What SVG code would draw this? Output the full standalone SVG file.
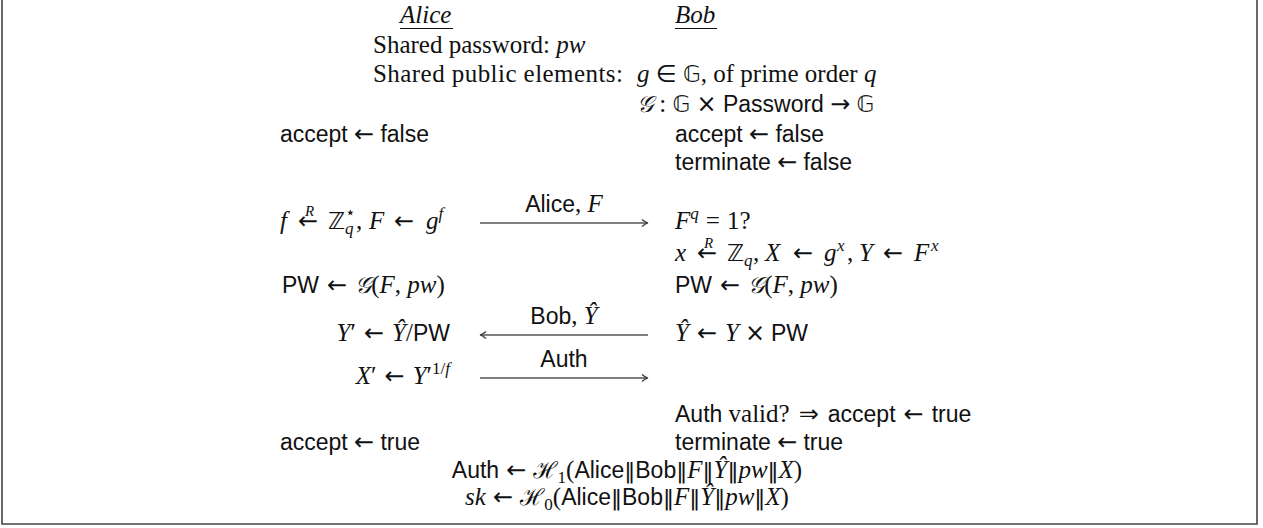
<svg xmlns="http://www.w3.org/2000/svg" width="1263" height="528" viewBox="0 0 1263 528">
<style>
text{font-family:"Liberation Serif",serif;font-size:25px;fill:#111}
.it{font-style:italic}
.sf{font-family:"Liberation Sans",sans-serif;font-size:23px;font-style:normal}
.sy{font-family:"DejaVu Sans",sans-serif;font-size:24px;font-style:normal}
.bb{font-family:"DejaVu Sans",sans-serif;font-size:23px;font-style:normal}
.sc{font-family:"DejaVu Serif","Noto Sans",serif;font-size:23px;font-style:italic}
.pp{font-family:"DejaVu Sans",sans-serif;font-size:22px;font-style:normal}
.s{font-size:17px}
.r{font-size:15px;font-style:italic}
.ul{stroke:#111;stroke-width:1}
.conn line{stroke:#555;stroke-width:1.3}
.conn path{fill:none;stroke:#333;stroke-width:1.2}
.lab{text-anchor:middle}
</style>
<path d="M2,-3 V524 H1257 V-3" fill="none" stroke="#444" stroke-width="1.6"/>

<g id="alice-header">
<text x="400" y="23" class="it">Alice</text>
<line class="ul" x1="400" y1="28.5" x2="453" y2="28.5"/>
</g>
<g id="bob-header">
<text x="675" y="23" class="it">Bob</text>
<line class="ul" x1="675" y1="28.5" x2="717" y2="28.5"/>
</g>

<g id="shared">
<text x="373" y="53">Shared password: <tspan class="it">pw</tspan></text>
<text x="373" y="82" textLength="250" lengthAdjust="spacing">Shared public elements:</text>
<text x="637" y="82"><tspan class="it">g</tspan> <tspan class="sy">∈</tspan> <tspan class="bb">𝔾</tspan>, of prime order <tspan class="it">q</tspan></text>
<text x="637" y="112"><tspan class="sc">𝒢</tspan> : <tspan class="bb">𝔾</tspan> <tspan class="sy">×</tspan> <tspan class="sf">Password</tspan> <tspan class="sy">→</tspan> <tspan class="bb">𝔾</tspan></text>
</g>

<g id="alice-ops">
<text x="280" y="142"><tspan class="sf">accept</tspan> <tspan class="sy">←</tspan> <tspan class="sf">false</tspan></text>
<text x="280" y="229"><tspan class="it">f</tspan><tspan x="298" class="sy">←</tspan><tspan x="305" dy="-13" class="r">R</tspan><tspan x="328" dy="13" class="bb">ℤ</tspan><tspan x="345" class="s it" dy="5">q</tspan><tspan x="345" class="s" dy="-16">⋆</tspan><tspan x="356" dy="11">,</tspan><tspan x="369" class="it">F</tspan><tspan x="394" class="sy">←</tspan><tspan x="426" class="it">g</tspan><tspan class="s it" dy="-10">f</tspan></text>
<text x="282" y="293"><tspan class="sf">PW</tspan><tspan dx="8" class="sy">←</tspan><tspan dx="8" class="sc">𝒢</tspan>(<tspan class="it">F</tspan>, <tspan class="it">pw</tspan>)</text>
<text x="450" y="341" text-anchor="end"><tspan class="it">Y</tspan>′<tspan dx="8" class="sy">←</tspan><tspan dx="8" class="it">Ŷ</tspan>/<tspan class="sf">PW</tspan></text>
<text x="450" y="384" text-anchor="end"><tspan class="it">X</tspan>′<tspan dx="8" class="sy">←</tspan><tspan dx="8" class="it">Y</tspan>′<tspan class="s" dy="-10">1/<tspan class="it">f</tspan></tspan></text>
<text x="280" y="450"><tspan class="sf">accept</tspan> <tspan class="sy">←</tspan> <tspan class="sf">true</tspan></text>
</g>

<g id="bob-ops">
<text x="675" y="142"><tspan class="sf">accept</tspan> <tspan class="sy">←</tspan> <tspan class="sf">false</tspan></text>
<text x="675" y="170"><tspan class="sf">terminate</tspan> <tspan class="sy">←</tspan> <tspan class="sf">false</tspan></text>
<text x="675" y="229"><tspan class="it">F</tspan><tspan class="s it" dy="-10">q</tspan><tspan dx="7" dy="10">=</tspan><tspan dx="7">1?</tspan></text>
<text x="675" y="261"><tspan class="it">x</tspan><tspan x="697" class="sy">←</tspan><tspan x="704" dy="-13" class="r">R</tspan><tspan x="727" dy="13" class="bb">ℤ</tspan><tspan x="744" class="s it" dy="5">q</tspan><tspan x="753" dy="-5">,</tspan><tspan x="765" class="it">X</tspan><tspan x="793" class="sy">←</tspan><tspan x="824" class="it">g</tspan><tspan x="837" class="s it" dy="-10">x</tspan><tspan x="847" dy="10">,</tspan><tspan x="859" class="it">Y</tspan><tspan x="883" class="sy">←</tspan><tspan x="914" class="it">F</tspan><tspan x="931" class="s it" dy="-10">x</tspan></text>
<text x="675" y="293"><tspan class="sf">PW</tspan><tspan dx="8" class="sy">←</tspan><tspan dx="8" class="sc">𝒢</tspan>(<tspan class="it">F</tspan>, <tspan class="it">pw</tspan>)</text>
<text x="675" y="341"><tspan class="it">Ŷ</tspan><tspan dx="8" class="sy">←</tspan><tspan dx="8" class="it">Y</tspan><tspan dx="6" class="sy">×</tspan><tspan dx="6" class="sf">PW</tspan></text>
<text x="675" y="422"><tspan class="sf">Auth</tspan> valid?<tspan dx="9" class="sy">⇒</tspan><tspan dx="9" class="sf">accept</tspan><tspan dx="8" class="sy">←</tspan><tspan dx="8" class="sf">true</tspan></text>
<text x="675" y="450"><tspan class="sf">terminate</tspan> <tspan class="sy">←</tspan> <tspan class="sf">true</tspan></text>
</g>

<g id="keys">
<text x="627" y="478" text-anchor="middle"><tspan class="sf">Auth</tspan><tspan dx="7" class="sy">←</tspan><tspan dx="7" class="sc">ℋ</tspan><tspan class="s" dy="5">1</tspan><tspan dy="-5">(</tspan><tspan class="sf">Alice</tspan><tspan class="pp">‖</tspan><tspan class="sf">Bob</tspan><tspan class="pp">‖</tspan><tspan class="it">F</tspan><tspan class="pp">‖</tspan><tspan class="it">Ŷ</tspan><tspan class="pp">‖</tspan><tspan class="it">pw</tspan><tspan class="pp">‖</tspan><tspan class="it">X</tspan>)</text>
<text x="627" y="505" text-anchor="middle"><tspan class="it">sk</tspan><tspan dx="7" class="sy">←</tspan><tspan dx="7" class="sc">ℋ</tspan><tspan class="s" dy="5">0</tspan><tspan dy="-5">(</tspan><tspan class="sf">Alice</tspan><tspan class="pp">‖</tspan><tspan class="sf">Bob</tspan><tspan class="pp">‖</tspan><tspan class="it">F</tspan><tspan class="pp">‖</tspan><tspan class="it">Ŷ</tspan><tspan class="pp">‖</tspan><tspan class="it">pw</tspan><tspan class="pp">‖</tspan><tspan class="it">X</tspan>)</text>
</g>

<g id="connectors" class="conn">
<g id="msg1">
<line x1="480" y1="223" x2="647" y2="223"/>
<path d="M642,219.5 Q645,222.3 648,223 Q645,223.7 642,226.5"/>
<text x="564" y="212" class="lab"><tspan class="sf">Alice</tspan>, <tspan class="it">F</tspan></text>
</g>
<g id="msg2">
<line x1="481" y1="335" x2="648" y2="335"/>
<path d="M486,331.5 Q483,334.3 480,335 Q483,335.7 486,338.5"/>
<text x="564" y="324" class="lab"><tspan class="sf">Bob</tspan>, <tspan class="it">Ŷ</tspan></text>
</g>
<g id="msg3">
<line x1="480" y1="378" x2="647" y2="378"/>
<path d="M642,374.5 Q645,377.3 648,378 Q645,378.7 642,381.5"/>
<text x="564" y="367" class="lab sf">Auth</text>
</g>
</g>
</svg>
